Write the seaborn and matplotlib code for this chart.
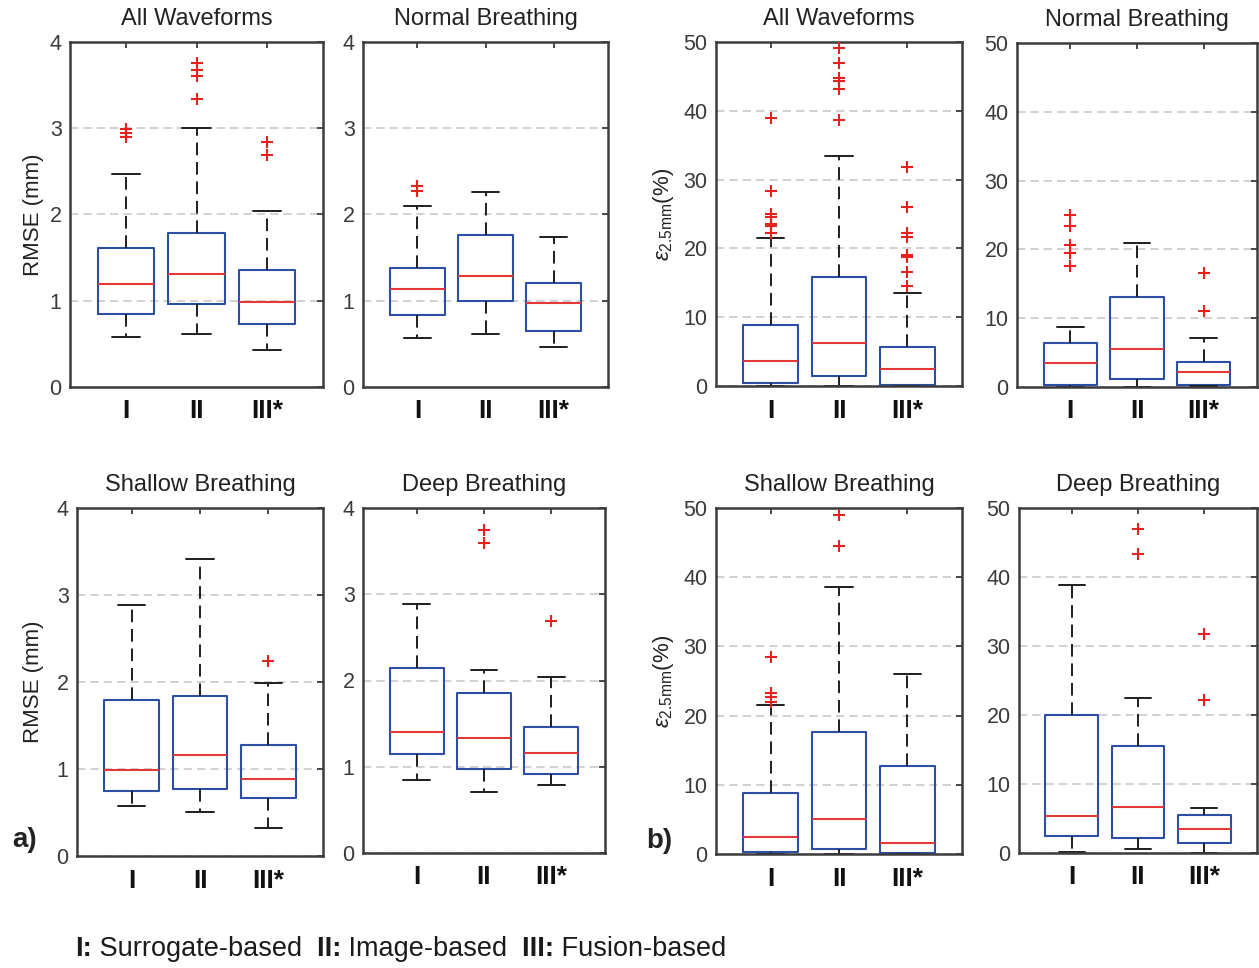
import matplotlib
matplotlib.use("Agg")
import matplotlib.pyplot as plt
import numpy as np
import pandas as pd
import seaborn as sns

# ---- data: five-number summaries (whisker low, Q1, median, Q3, whisker high) ----
methods = ["I", "II", "III*"]

rmse_titles = ["All Waveforms", "Normal Breathing", "Shallow Breathing", "Deep Breathing"]
rmse_low = [[0.58, 0.62, 0.43], [0.57, 0.61, 0.46], [0.58, 0.505, 0.325], [0.845, 0.71, 0.79]]
rmse_q1 = [[0.85, 0.96, 0.73], [0.83, 1.00, 0.655], [0.75, 0.77, 0.67], [1.153, 0.976, 0.92]]
rmse_med = [[1.19, 1.31, 0.98], [1.14, 1.29, 0.97], [0.985, 1.16, 0.89], [1.40, 1.33, 1.165]]
rmse_q3 = [[1.61, 1.785, 1.36], [1.376, 1.76, 1.20], [1.79, 1.84, 1.28], [2.15, 1.85, 1.46]]
rmse_high = [[2.47, 3.00, 2.04], [2.10, 2.26, 1.74], [2.89, 3.41, 1.99], [2.89, 2.12, 2.04]]
rmse_out = [
    [[2.99, 2.945, 2.90], [3.76, 3.68, 3.61, 3.34], [2.84, 2.69]],
    [[2.33, 2.27], [], []],
    [[], [], [2.24]],
    [[], [3.74, 3.60], [2.69]],
]

eps_titles = ["All Waveforms", "Normal Breathing", "Shallow Breathing", "Deep Breathing"]
eps_low = [[0.0, 0.0, 0.0], [0.0, 0.0, 0.1], [0.0, 0.0, 0.0], [0.1, 0.63, 0.0]]
eps_q1 = [[0.39, 1.4, 0.2], [0.3, 1.2, 0.3], [0.3, 0.72, 0.1], [2.46, 2.22, 1.45]]
eps_med = [[3.58, 6.25, 2.5], [3.5, 5.5, 2.2], [2.5, 5.05, 1.64], [5.31, 6.6, 3.43]]
eps_q3 = [[8.86, 15.8, 5.6], [6.4, 13.1, 3.7], [8.85, 17.66, 12.7], [20.05, 15.46, 5.56]]
eps_high = [[21.5, 33.5, 13.55], [8.67, 21.0, 7.1], [21.5, 38.6, 26.0], [38.9, 22.5, 6.57]]
eps_out = [
    [[38.9, 28.4, 25.0, 24.6, 23.5, 23.2, 22.2],
     [49.2, 46.9, 44.7, 44.3, 43.2, 38.7],
     [31.8, 26.0, 22.3, 21.6, 19.0, 18.7, 16.6, 14.5]],
    [[25.0, 23.4, 20.7, 19.5, 17.6], [], [16.5, 11.1]],
    [[28.4, 23.3, 22.7, 21.9], [49.0, 44.5], []],
    [[], [46.96, 43.4], [31.8, 22.2]],
]

# ---- styling ----
sns.set_theme(style="white")
plt.rcParams["font.family"] = ["Liberation Sans", "DejaVu Sans"]
plt.rcParams["mathtext.fontset"] = "custom"
plt.rcParams["mathtext.rm"] = "Liberation Sans"
plt.rcParams["mathtext.it"] = "Liberation Sans:italic"
plt.rcParams["mathtext.bf"] = "Liberation Sans:bold"

BOX_BLUE = "#2d4fa3"
MED_RED = "#e2383a"
OUT_RED = "#e4231f"
SPINE = "#3c3c3c"
TICK_TXT = "#3a3a3a"

W, H = 1259, 968
fig = plt.figure(figsize=(W / 100, H / 100), dpi=100)
fig.patch.set_facecolor("white")


def px_rect(left, right, top, bottom):
    return [left / W, 1 - bottom / H, (right - left) / W, (bottom - top) / H]


rmse_rects = [px_rect(70, 323, 42, 387), px_rect(363, 608, 42, 387),
              px_rect(77, 323, 508, 856), px_rect(363, 605, 508, 853)]
eps_rects = [px_rect(716, 962, 42, 386), px_rect(1017, 1257, 43, 387),
             px_rect(716, 962, 508, 854), px_rect(1019, 1257, 508, 853)]


def draw_panel(rect, title, low, q1, med, q3, high, outs, ymax, yticks):
    ax = fig.add_axes(rect)
    rows = []
    for m, lo, a, md, b, hi in zip(methods, low, q1, med, q3, high):
        for v in (lo, a, md, b, hi):
            rows.append({"method": m, "value": v})
    df = pd.DataFrame(rows)
    sns.boxplot(
        data=df, x="method", y="value", order=methods, ax=ax,
        fill=False, width=0.8, whis=(0, 100), showfliers=False,
        color=BOX_BLUE, linewidth=1.5,
        boxprops={"color": BOX_BLUE, "linewidth": 1.5},
        medianprops={"color": MED_RED, "linewidth": 1.5},
        whiskerprops={"color": "#1e1e1e", "linewidth": 1.4, "linestyle": (0, (6.5, 3.5))},
        capprops={"color": "#1e1e1e", "linewidth": 1.4},
    )
    ox, oy = [], []
    for i, vals in enumerate(outs):
        ox.extend([i] * len(vals))
        oy.extend(vals)
    if ox:
        sns.scatterplot(x=ox, y=oy, ax=ax, marker="+", color=OUT_RED, s=70,
                        linewidth=1.5, zorder=5)
    ax.set_xlim(-0.8, 2.8)
    ax.set_ylim(0, ymax)
    ax.set_yticks(yticks)
    ax.set_yticklabels([str(t) for t in yticks], fontsize=15.5, color=TICK_TXT)
    ax.set_xticks(range(len(methods)))
    ax.set_xticklabels(methods, fontsize=19, fontweight="bold", color="#111111")
    ax.set_xlabel("")
    ax.set_ylabel("")
    ax.yaxis.grid(True, linestyle=(0, (5, 3)), color="#c9c9c9", linewidth=1.2)
    ax.xaxis.grid(False)
    ax.set_axisbelow(True)
    for sp in ax.spines.values():
        sp.set_color(SPINE)
        sp.set_linewidth(1.8)
    ax.tick_params(axis="both", direction="in", top=True, right=True,
                   length=4, width=1.3, color=SPINE)
    ax.tick_params(axis="y", pad=6)
    ax.tick_params(axis="x", pad=9)
    ax.set_title(title, fontsize=17, color="#222222", pad=12)
    return ax


rmse_axes = []
for k in range(4):
    rmse_axes.append(draw_panel(rmse_rects[k], rmse_titles[k], rmse_low[k], rmse_q1[k],
                                rmse_med[k], rmse_q3[k], rmse_high[k], rmse_out[k],
                                4, [0, 1, 2, 3, 4]))
eps_axes = []
for k in range(4):
    eps_axes.append(draw_panel(eps_rects[k], eps_titles[k], eps_low[k], eps_q1[k],
                               eps_med[k], eps_q3[k], eps_high[k], eps_out[k],
                               50, [0, 10, 20, 30, 40, 50]))

# y-axis labels
for ax, xc in ((rmse_axes[0], 33), (rmse_axes[2], 34)):
    bb = ax.get_position()
    fig.text(xc / W, bb.y0 + bb.height / 2, "RMSE (mm)", rotation=90,
             ha="center", va="center", fontsize=16, color="#222222")
for ax in (eps_axes[0], eps_axes[2]):
    bb = ax.get_position()
    fig.text(663 / W, bb.y0 + bb.height / 2, r"$\epsilon_{2.5\mathrm{mm}}$(%)",
             rotation=90, ha="center", va="center", fontsize=16, color="#222222")

# panel letters
fig.text(12 / W, 1 - 840 / H, "a)", fontsize=20, fontweight="bold", color="#222222",
         ha="left", va="center")
fig.text(646 / W, 1 - 841 / H, "b)", fontsize=20, fontweight="bold", color="#222222",
         ha="left", va="center")

# method key along the bottom
runs = [("I:", "bold"), (" Surrogate-based", "normal"), ("  II:", "bold"),
        (" Image-based", "normal"), ("  III:", "bold"), (" Fusion-based", "normal")]
renderer = fig.canvas.get_renderer()
x = 75.0
for txt, wt in runs:
    t = fig.text(x / W, 1 - 949 / H, txt, fontsize=19.5, fontweight=wt,
                 color="#1a1a1a", ha="left", va="center")
    x = t.get_window_extent(renderer).x1

fig.savefig("out.png", dpi=100, facecolor="white")
